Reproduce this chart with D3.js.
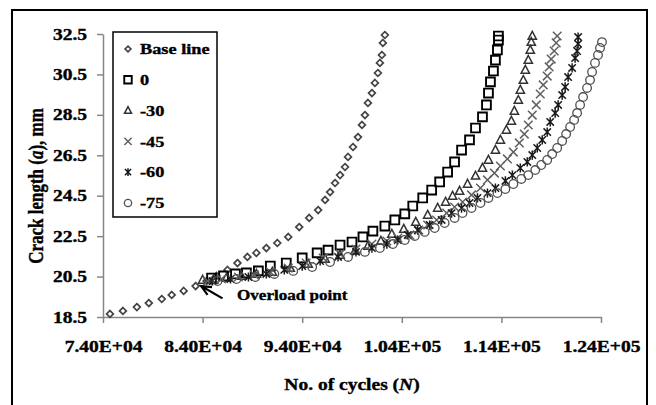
<!DOCTYPE html>
<html lang="en">
<head>
  <meta charset="UTF-8">
  <title>Crack length vs cycles</title>
  <script src="https://d3js.org/d3.v7.min.js"></script>
  <style>
    body {
      margin: 0;
      padding: 0;
      background-color: #fff;
    }
    text {
      font-family: 'Liberation Serif', 'Times New Roman', serif;
      font-weight: bold;
      fill: #000;
      stroke: #000;
      stroke-width: 0.35px;
    }
    .axis path, .axis line {
      stroke: #868686;
      stroke-width: 1.5;
    }
  </style>
</head>
<body>
  <div id="chart"></div>

  <script>
    // ---- data: [cycles N, crack length a (mm)] ----
    const baseLine = [
      [74700, 18.65], [76000, 18.80], [77400, 18.99], [78600, 19.19], [79900, 19.39],
      [80900, 19.59], [82100, 19.79], [83300, 20.03], [84400, 20.28], [85400, 20.53],
      [86500, 20.83], [87500, 21.17], [88500, 21.47], [89400, 21.67], [90400, 21.91],
      [91500, 22.16], [92600, 22.46], [93700, 22.95], [94700, 23.40], [95600, 23.79],
      [96300, 24.29], [96800, 24.68], [97300, 25.13], [97800, 25.52], [98300, 25.92],
      [98600, 26.42], [99100, 26.91], [99600, 27.40], [100000, 28.00], [100300, 28.49],
      [100600, 29.09], [101000, 29.58], [101300, 30.08], [101600, 30.57], [101800, 31.07],
      [102000, 31.46], [102100, 32.06], [102300, 32.45]
    ];
    const angle0 = [
      [84900, 20.43], [86100, 20.53], [87300, 20.63], [88400, 20.68], [89600, 20.78],
      [90800, 21.02], [92400, 21.17], [94000, 21.42], [95500, 21.67], [96600, 21.81],
      [97800, 22.06], [99000, 22.21], [100100, 22.46], [101100, 22.75], [102300, 23.00],
      [103300, 23.30], [104300, 23.60], [105100, 23.99], [106100, 24.39], [107000, 24.78],
      [107800, 25.18], [108600, 25.67], [109300, 26.17], [110000, 26.76], [110800, 27.26],
      [111400, 27.85], [112100, 28.40], [112500, 28.99], [112700, 29.58], [112900, 30.13],
      [113200, 30.67], [113400, 31.21], [113600, 31.71], [113700, 32.20], [113700, 32.40]
    ];
    const angle30 = [
      [84000, 20.33], [85100, 20.33], [86400, 20.43], [87900, 20.53], [89400, 20.63],
      [91000, 20.73], [92800, 20.92], [94600, 21.12], [96300, 21.37], [97800, 21.57],
      [99300, 21.77], [100600, 22.01], [101900, 22.26], [103000, 22.61], [104200, 22.85],
      [105400, 23.20], [106600, 23.55], [107600, 23.89], [108400, 24.19], [109100, 24.49],
      [109800, 24.73], [110600, 25.08], [111400, 25.48], [112100, 25.87], [112700, 26.27],
      [113400, 26.76], [113900, 27.26], [114500, 27.75], [115000, 28.20], [115300, 28.69],
      [115700, 29.23], [115900, 29.73], [116200, 30.22], [116400, 30.72], [116700, 31.21],
      [116900, 31.71], [117000, 32.10], [117100, 32.40]
    ];
    const angle45 = [
      [84500, 20.28], [85900, 20.38], [87600, 20.48], [89200, 20.58], [90800, 20.73],
      [92600, 20.92], [94400, 21.17], [96100, 21.42], [97800, 21.62], [99400, 21.86],
      [101000, 22.11], [102500, 22.26], [103600, 22.41], [104800, 22.56], [105700, 22.80],
      [106600, 23.05], [107500, 23.30], [108500, 23.64], [109300, 23.94], [110100, 24.19],
      [111000, 24.54], [111900, 24.88], [112600, 25.28], [113300, 25.62], [113900, 25.97],
      [114600, 26.32], [115200, 26.66], [115800, 27.11], [116300, 27.55], [116700, 28.00],
      [117100, 28.49], [117500, 28.99], [117900, 29.53], [118200, 29.98], [118600, 30.42],
      [118800, 30.87], [119000, 31.26], [119300, 31.66], [119500, 32.06], [119600, 32.40]
    ];
    const angle60 = [
      [85000, 20.28], [86800, 20.38], [88600, 20.48], [90400, 20.63], [92200, 20.83],
      [94000, 21.02], [95800, 21.27], [97600, 21.47], [99400, 21.72], [101000, 21.91],
      [102500, 22.11], [103600, 22.31], [104600, 22.56], [105600, 22.80], [106800, 23.05],
      [108000, 23.30], [109000, 23.64], [110000, 23.89], [110800, 24.14], [111600, 24.39],
      [112600, 24.63], [113400, 24.88], [114400, 25.23], [115100, 25.52], [115900, 25.87],
      [116600, 26.17], [117100, 26.51], [117600, 26.86], [118100, 27.26], [118600, 27.65],
      [118900, 28.15], [119400, 28.59], [119700, 28.99], [120100, 29.48], [120400, 29.88],
      [120700, 30.37], [121100, 30.82], [121400, 31.31], [121600, 31.66], [121700, 32.01],
      [121700, 32.35]
    ];
    const angle75 = [
      [85500, 20.28], [87400, 20.38], [89300, 20.48], [91200, 20.63], [93100, 20.78],
      [95000, 20.97], [96800, 21.22], [98600, 21.47], [100300, 21.72], [101800, 21.91],
      [103100, 22.11], [104300, 22.31], [105300, 22.51], [106300, 22.71], [107300, 22.90],
      [108300, 23.15], [109300, 23.40], [110100, 23.64], [111000, 23.89], [111900, 24.14],
      [112700, 24.39], [113600, 24.63], [114400, 24.83], [115200, 25.08], [116000, 25.33],
      [116700, 25.52], [117400, 25.77], [118000, 26.02], [118600, 26.27], [119100, 26.56],
      [119600, 26.86], [120100, 27.21], [120500, 27.55], [120900, 27.90], [121300, 28.25],
      [121600, 28.59], [121900, 28.99], [122200, 29.38], [122600, 29.83], [122900, 30.22],
      [123100, 30.62], [123400, 31.07], [123700, 31.46], [123900, 31.81], [124100, 32.10]
    ];

    const seriesNames = ["Base line", "0", "-30", "-45", "-60", "-75"];
    const xTicks = [74000, 84000, 94000, 104000, 114000, 124000];
    const xTickLabels = ["7.40E+04", "8.40E+04", "9.40E+04", "1.04E+05", "1.14E+05", "1.24E+05"];
    const yTicks = [18.5, 20.5, 22.5, 24.5, 26.5, 28.5, 30.5, 32.5];
    const overloadArrow = { from: [86000, 19.42], to: [83850, 20.03] };

    // ---- layout ----
    const W = 656, H = 405;
    const stretch = 1.22; // the source text is widened horizontally

    const svg = d3.select("#chart").append("svg")
      .attr("width", W)
      .attr("height", H);

    // outer frame
    svg.append("rect")
      .attr("x", 12).attr("y", 10)
      .attr("width", 635).attr("height", 400)
      .attr("fill", "#fff")
      .attr("stroke", "#000")
      .attr("stroke-width", 2);

    const x = d3.scaleLinear().domain([74000, 124000]).range([103, 601]);
    const y = d3.scaleLinear().domain([18.5, 32.5]).range([317, 34]);

    // marker shapes
    const shapes = {
      diamond: s => `M0,${-s}L${s},0L0,${s}L${-s},0Z`,
      square: s => `M${-s},${-s}H${s}V${s}H${-s}Z`,
      triangle: s => `M0,${-s}L${s * 0.9},${s * 0.7}L${-s * 0.9},${s * 0.7}Z`,
      cross: s => `M${-s},${-s}L${s},${s}M${-s},${s}L${s},${-s}`,
      star: s => `M${-s * 0.8},${-s * 0.8}L${s * 0.8},${s * 0.8}M${-s * 0.8},${s * 0.8}L${s * 0.8},${-s * 0.8}M0,${-s}V${s}`,
      circle: s => `M${s},0A${s},${s} 0 1 1 ${-s},0A${s},${s} 0 1 1 ${s},0Z`
    };

    const styles = [
      { data: baseLine, shape: "diamond", size: 3.4, color: "#444", width: 1.7 },
      { data: angle0, shape: "square", size: 4.4, color: "#000", width: 1.9 },
      { data: angle30, shape: "triangle", size: 4.6, color: "#333", width: 1.5 },
      { data: angle45, shape: "cross", size: 4.3, color: "#606060", width: 1.5 },
      { data: angle60, shape: "star", size: 4.6, color: "#1a1a1a", width: 1.5 },
      { data: angle75, shape: "circle", size: 4.3, color: "#505050", width: 1.3 }
    ];

    // axes
    const yAxis = svg.append("g")
      .attr("class", "axis")
      .attr("transform", "translate(103,0)")
      .call(d3.axisLeft(y).tickValues(yTicks).tickSize(6).tickSizeOuter(0)
        .tickFormat(d3.format(".1f")));
    yAxis.selectAll("text")
      .attr("x", -16 / stretch)
      .attr("transform", `scale(${stretch},1)`)
      .style("font-size", "16px");

    const xAxis = svg.append("g")
      .attr("class", "axis")
      .attr("transform", "translate(0,317)")
      .call(d3.axisBottom(x).tickValues(xTicks).tickSize(6).tickSizeOuter(0)
        .tickFormat((d, i) => xTickLabels[i]));
    xAxis.selectAll("text")
      .attr("y", 29)
      .attr("dy", "0.35em")
      .attr("transform", `scale(${stretch},1)`)
      .style("font-size", "16px");
    svg.selectAll(".axis .domain").attr("stroke", "#868686");

    // series
    styles.forEach(s => {
      svg.append("g")
        .selectAll("path")
        .data(s.data)
        .enter()
        .append("path")
        .attr("transform", d => `translate(${x(d[0])},${y(d[1])})`)
        .attr("d", shapes[s.shape](s.size))
        .attr("fill", "none")
        .attr("stroke", s.color)
        .attr("stroke-width", s.width);
    });

    // axis titles
    const xt = svg.append("text")
      .attr("transform", `translate(352,384) scale(${stretch},1)`)
      .attr("text-anchor", "middle")
      .attr("dy", "0.35em")
      .style("font-size", "16px");
    xt.append("tspan").text("No. of cycles (");
    xt.append("tspan").style("font-style", "italic").text("N");
    xt.append("tspan").text(")");

    const yt = svg.append("text")
      .attr("transform", `translate(36,186) rotate(-90) scale(1,${stretch})`)
      .attr("text-anchor", "middle")
      .attr("dy", "0.35em")
      .style("font-size", "17px");
    yt.append("tspan").text("Crack length (");
    yt.append("tspan").style("font-style", "italic").text("a");
    yt.append("tspan").text("), mm");

    // overload annotation
    const ax0 = x(overloadArrow.from[0]), ay0 = y(overloadArrow.from[1]);
    const ax1 = x(overloadArrow.to[0]), ay1 = y(overloadArrow.to[1]);
    const ang = Math.atan2(ay1 - ay0, ax1 - ax0);
    const head = 11;
    svg.append("path")
      .attr("d", `M${ax0},${ay0}L${ax1},${ay1}` +
        `M${ax1 - head * Math.cos(ang - 0.42)},${ay1 - head * Math.sin(ang - 0.42)}L${ax1},${ay1}` +
        `L${ax1 - head * Math.cos(ang + 0.42)},${ay1 - head * Math.sin(ang + 0.42)}`)
      .attr("fill", "none")
      .attr("stroke", "#000")
      .attr("stroke-width", 2.2);

    svg.append("text")
      .attr("transform", `translate(237,295) scale(${stretch},1)`)
      .attr("dy", "0.35em")
      .style("font-size", "14px")
      .text("Overload point");

    // legend
    const legend = svg.append("g");
    legend.append("rect")
      .attr("x", 113).attr("y", 32)
      .attr("width", 104).attr("height", 185)
      .attr("fill", "#fff")
      .attr("stroke", "#000")
      .attr("stroke-width", 1.5);

    const rowY = d3.scalePoint().domain(seriesNames).range([49, 203]);
    seriesNames.forEach((name, i) => {
      const s = styles[i];
      legend.append("path")
        .attr("transform", `translate(128,${rowY(name)})`)
        .attr("d", shapes[s.shape](s.size * 0.85))
        .attr("fill", "none")
        .attr("stroke", s.color)
        .attr("stroke-width", s.width);
      legend.append("text")
        .attr("transform", `translate(140,${rowY(name)}) scale(${stretch},1)`)
        .attr("dy", "0.35em")
        .style("font-size", "15px")
        .text(name);
    });
  </script>
</body>
</html>
